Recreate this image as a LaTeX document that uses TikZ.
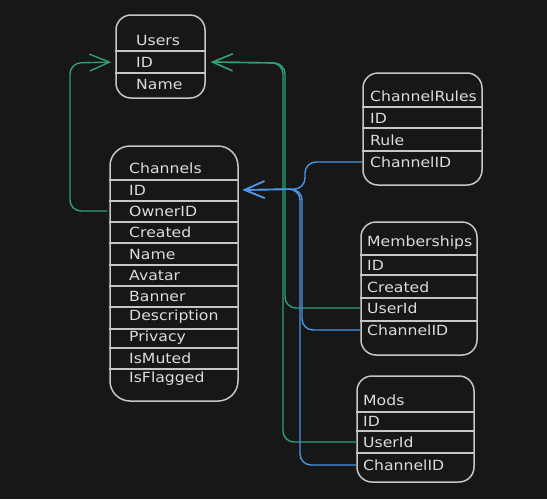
\documentclass[tikz,border=0pt]{standalone}
\usepackage{fontspec}
\setmainfont[FakeStretch=1.12]{DejaVu Sans}
\usetikzlibrary{arrows.meta}
\definecolor{bg}{HTML}{171717}
\definecolor{stroke}{HTML}{C6C6C6}
\definecolor{txt}{HTML}{DCDCDC}
\definecolor{lgreen}{HTML}{2EA072}
\definecolor{lblue}{HTML}{4A96E6}
\tikzset{
  frame/.style={draw=stroke, line width=1.5pt, rounded corners=15pt, inner sep=0pt},
  sep/.style={draw=stroke, line width=1.4pt},
  lbl/.style={anchor=west, inner sep=0pt, text=txt, font=\fontsize{14}{16}\selectfont},
  link/.style={line width=1.4pt, -{Straight Barb[length=20pt 0, width=17pt 0]}},
  gl/.style={link, draw=lgreen},
  bl/.style={link, draw=lblue},
}
\begin{document}
\begin{tikzpicture}[x=1pt,y=-1pt]
\fill[bg] (0,0) rectangle (547,499);
\useasboundingbox (0,0) rectangle (547,499);

% Users
\node[frame, minimum width=89pt, minimum height=83pt] (users) at (160.5,56.5) {};
\draw[sep] (users.west |- 0,51) -- (users.east |- 0,51);
\draw[sep] (users.west |- 0,73) -- (users.east |- 0,73);
\node[lbl] (users-h) at (136,40) {Users};
\node[lbl] (users-id) at (136,62) {ID};
\node[lbl] (users-name) at (136,84) {Name};

% Channels
\node[frame, rounded corners=20pt, minimum width=128pt, minimum height=255pt] (ch) at (174,273.5) {};
\foreach \yy in {180,201,222,243,265,286,307,329,348,369}
  \draw[sep] (ch.west |- 0,\yy) -- (ch.east |- 0,\yy);
\node[lbl] (ch-h) at (129,168) {Channels};
\node[lbl] (ch-id) at (129,190) {ID};
\node[lbl] (ch-owner) at (129,211) {OwnerID};
\node[lbl] (ch-created) at (129,232) {Created};
\node[lbl] (ch-name) at (129,254) {Name};
\node[lbl] (ch-avatar) at (129,275) {Avatar};
\node[lbl] (ch-banner) at (129,296) {Banner};
\node[lbl] (ch-desc) at (129,317) {Description};
\node[lbl] (ch-priv) at (129,338) {Privacy};
\node[lbl] (ch-muted) at (129,358) {IsMuted};
\node[lbl] (ch-flag) at (129,379) {IsFlagged};

% ChannelRules
\node[frame, minimum width=119pt, minimum height=112pt] (cr) at (422.5,129) {};
\foreach \yy in {107,128,151}
  \draw[sep] (cr.west |- 0,\yy) -- (cr.east |- 0,\yy);
\node[lbl] (cr-h) at (370,96) {ChannelRules};
\node[lbl] (cr-id) at (370,118) {ID};
\node[lbl] (cr-rule) at (370,140) {Rule};
\node[lbl] (cr-cid) at (370,162) {ChannelID};

% Memberships
\node[frame, minimum width=116pt, minimum height=133pt] (mem) at (419,288.5) {};
\foreach \yy in {255,275,298,321}
  \draw[sep] (mem.west |- 0,\yy) -- (mem.east |- 0,\yy);
\node[lbl] (mem-h) at (367,243) {Memberships};
\node[lbl] (mem-id) at (367,265) {ID};
\node[lbl] (mem-created) at (367,287) {Created};
\node[lbl] (mem-user) at (367,308) {UserId};
\node[lbl] (mem-cid) at (367,330) {ChannelID};

% Mods
\node[frame, minimum width=117pt, minimum height=106pt] (mods) at (415.5,429) {};
\foreach \yy in {412,431,453}
  \draw[sep] (mods.west |- 0,\yy) -- (mods.east |- 0,\yy);
\node[lbl] (mods-h) at (363,400) {Mods};
\node[lbl] (mods-id) at (363,421) {ID};
\node[lbl] (mods-user) at (363,442) {UserId};
\node[lbl] (mods-cid) at (363,465) {ChannelID};

% green links to Users.ID
\draw[gl, shorten >=4pt, shorten <=2pt] (ch-owner.west -| ch.west) [rounded corners=11pt] -| (70,63) [sharp corners] -- (users-id.west -| users.west);
\draw[gl, shorten >=5pt] (mem-user.west -| mem.west) [rounded corners=11pt] -| (285,63) [sharp corners] -- (users-id.west -| users.east);
\draw[gl, shorten >=5pt] (mods-user.west -| mods.west) [rounded corners=11pt] -| (283,63) [sharp corners] -- (users-id.west -| users.east);

% blue links to Channels.ID
\draw[bl, shorten >=4pt] (cr-cid.west -| cr.west) [rounded corners=11pt] -| (305,189) [sharp corners] -- (ch-id.west -| ch.east);
\draw[bl, shorten >=4pt] (mem-cid.west -| mem.west) [rounded corners=11pt] -| (302,189) [sharp corners] -- (ch-id.west -| ch.east);
\draw[bl, shorten >=4pt] (mods-cid.west -| mods.west) [rounded corners=11pt] -| (300,189) [sharp corners] -- (ch-id.west -| ch.east);
\end{tikzpicture}
\end{document}
